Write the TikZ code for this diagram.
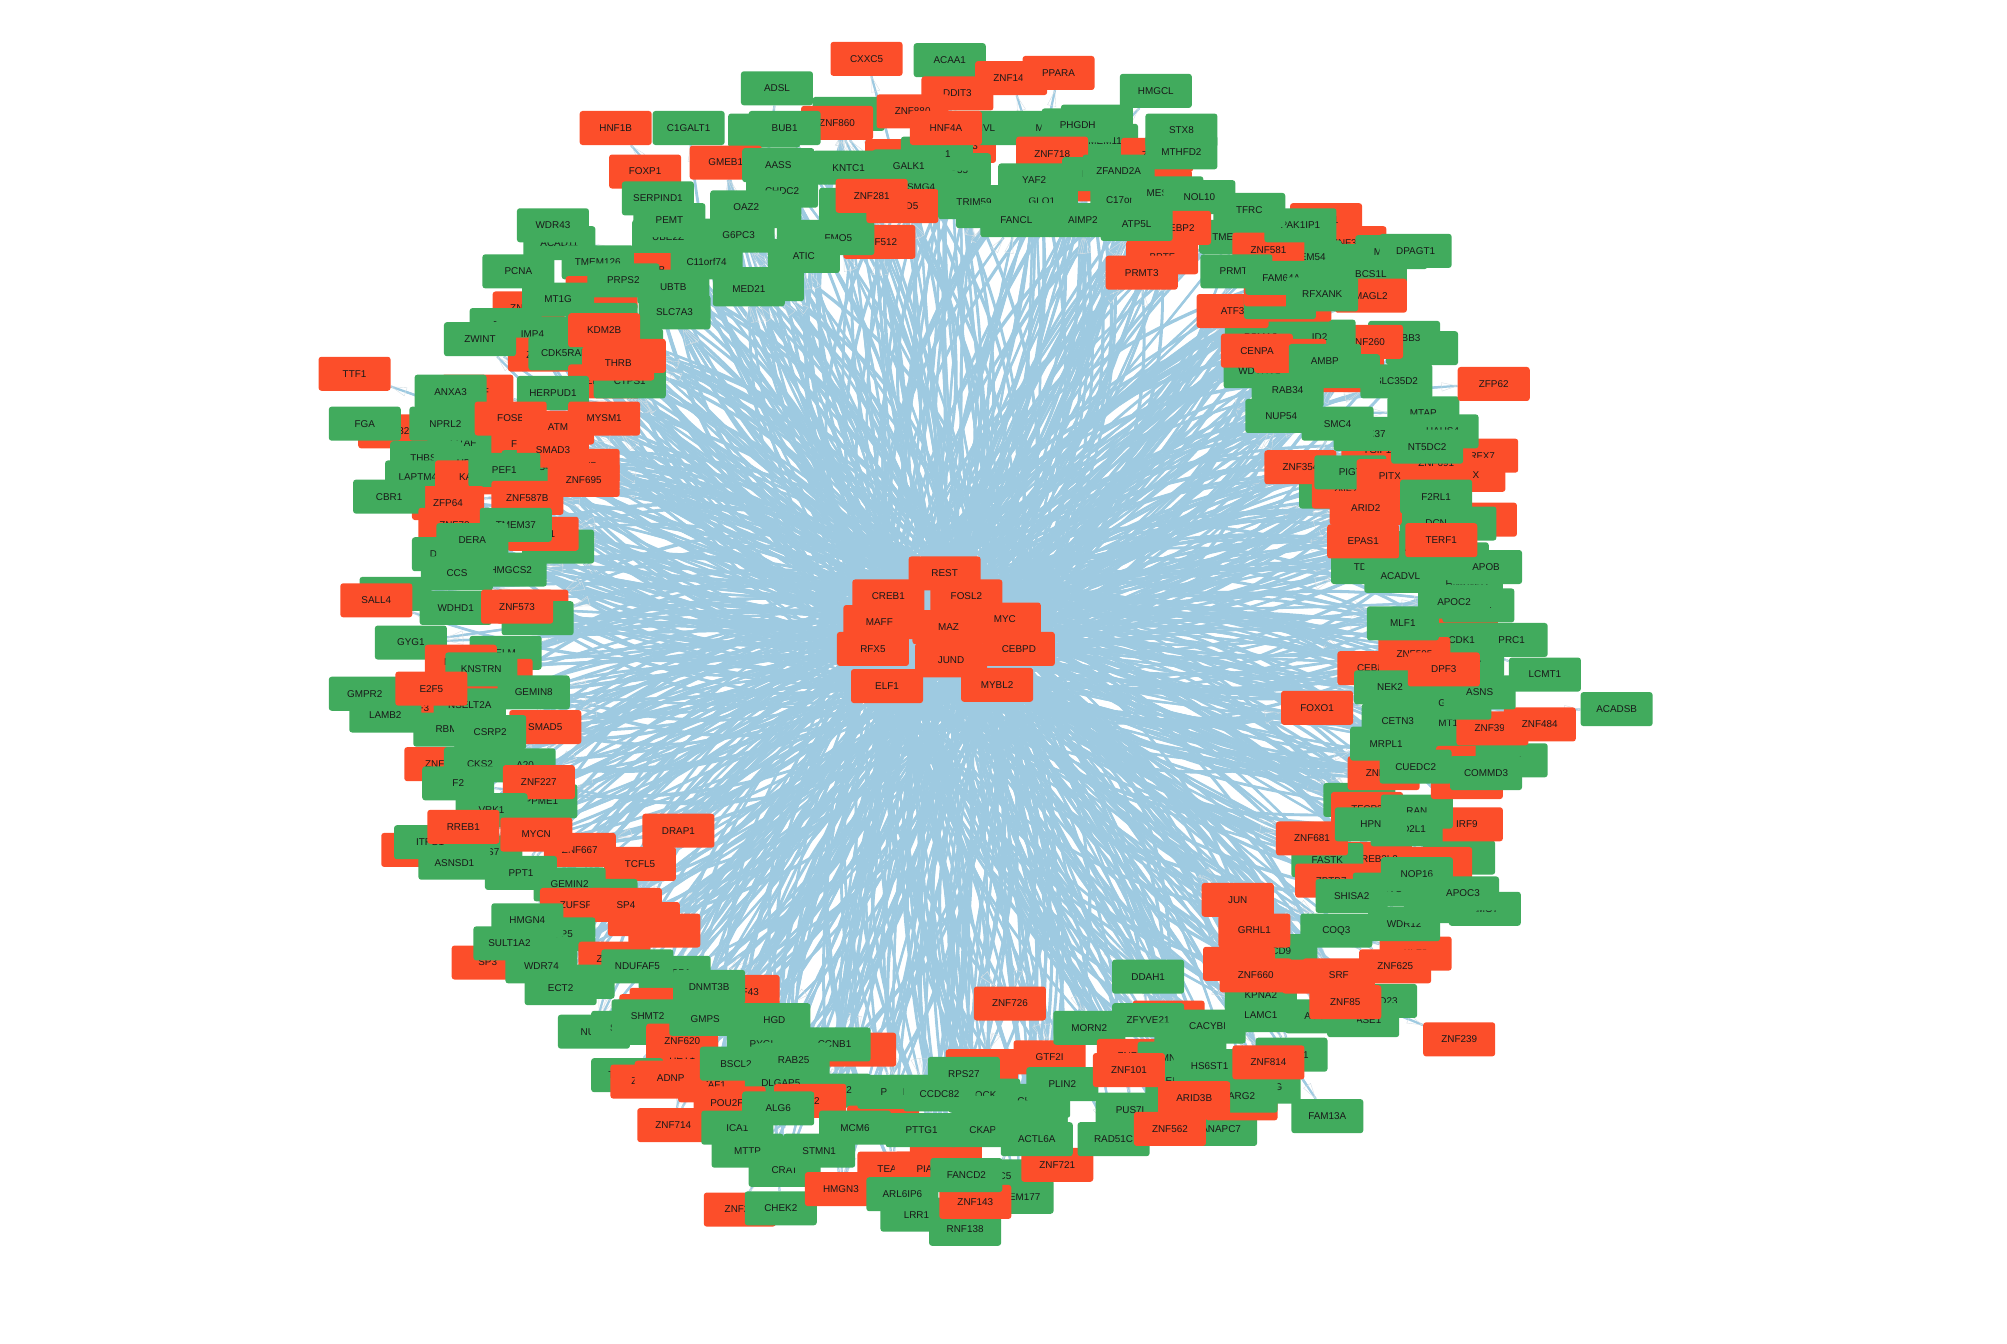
\documentclass[tikz,border=0pt]{standalone}
\usepackage{fontspec}
\setmainfont{Liberation Sans}
\usetikzlibrary{arrows.meta,backgrounds}
\definecolor{gfill}{HTML}{41AB5D}
\definecolor{ofill}{HTML}{FC4E2A}
\definecolor{edgeblue}{HTML}{9ECAE1}
\definecolor{tipgrey}{HTML}{D4DEE4}
\tikzset{
  x=0.04cm,y=-0.04cm,
  genebox/.style={rectangle,rounded corners=2.5pt,inner sep=0pt,minimum width=2.25cm,minimum height=1.0625cm,text=black!90,font=\fontsize{8.8}{8.8}\selectfont},
  gbox/.style={genebox,fill=gfill},
  obox/.style={genebox,fill=ofill},
  edgeline/.style={draw=edgeblue,line width=2pt},
  tipline/.style={draw=edgeblue,line width=2pt,-{Triangle[open,length=0.5cm,width=0.28cm,line width=0.35pt,color=tipgrey]}}
}
\def\peers{}
\newcommand\addpeer[2]{\ifx\peers\empty\xdef\peers{#1/#2}\else\xdef\peers{\peers,#1/#2}\fi}
\newcommand\gN[4][0]{\node[gbox] (#2) at (#3,#4) {#2};\addpeer{#2}{#1}}
\newcommand\oN[4][0]{\node[obox] (#2) at (#3,#4) {#2};\addpeer{#2}{#1}}
\newcommand\hubname[1]{\ifcase#1 REST\or CREB1\or FOSL2\or MAFF\or MAZ\or MYC\or RFX5\or CEBPD\or JUND\or ELF1\or MYBL2\fi}
\begin{document}
\begin{tikzpicture}
\useasboundingbox (0,0) rectangle (1568,1050);
% top
\oN[1]{CXXC5}{677}{46}
\gN[1]{ACAA1}{742}{47}
\gN[1]{ADSL}{607}{69}
\oN[1]{ZNF148}{790}{61}
\oN[1]{PPARA}{827}{57}
\oN{DDIT3}{748}{73}
\gN{GLRX}{663}{89}
\oN{ZNF860}{654}{96}
\oN{ZNF880}{713}{87}
\gN{CD2}{597}{102}
\gN[1]{C1GALT1}{538}{100}
\gN{BUB1}{613}{100}
\oN[1]{HNF1B}{481}{100}
\oN{GMEB1}{567}{127}
\gN{CHDC2}{611}{149}
\gN{AASS}{608}{129}
\oN[2]{FOXP1}{504}{134}
\gN{SMC1A}{668}{160}
\oN{ZNF22}{704}{122}
\gN{KNTC1}{663}{131}
\oN{ZNF653}{750}{114}
\gN{NVL}{770}{100}
\gN{TIP55}{746}{133}
\gN{MTG1}{732}{120}
\oN{HNF4A}{739}{100}
\gN{PSMG4}{717}{146}
\gN{GALK1}{710}{130}
\gN{UBE2Z}{522}{185}
\gN{SERPIND1}{514}{155}
\gN{PDHX}{598}{165}
\gN{PEMT}{523}{172}
\gN{OAZ2}{583}{162}
\oN{ZNF512}{687}{189}
\gN{SIL1}{635}{185}
\gN{G6PC3}{577}{184}
\gN{FMO5}{655}{186}
\gN{ATIC}{628}{200}
\oN{MAFB}{509}{211}
\gN{POLD7}{600}{222}
\gN{C11orf74}{552}{205}
\gN{MED21}{585}{226}
\gN{NUP35}{775}{165}
\oN{ZBED5}{705}{161}
\oN{ZNF281}{681}{153}
\gN{TRIM59}{761}{158}
% upper left
\gN{ACAD11}{437}{190}
\gN[2]{WDR43}{432}{176}
\gN{TMEM126}{467}{205}
\oN{ZNF331}{470}{229}
\gN{UBTB}{526}{224}
\gN{PRPS2}{487}{219}
\gN{PCNA}{405}{212}
\gN{SLC7A3}{527}{244}
\oN{ZNF74A}{413}{241}
\gN{RPL7}{395}{254}
\gN{TBCA}{470}{250}
\gN{MT1G}{436}{234}
\gN{IMP4}{416}{261}
\oN{ZNF211}{425}{277}
\gN{CDK5RAP}{441}{276}
\gN[2]{ZWINT}{375}{265}
\gN{GMPR}{490}{270}
\oN{KDM2B}{472}{258}
\oN{ZNF317}{472}{298}
\gN{CTPS1}{492}{298}
\oN{SOX9}{492}{278}
\oN{THRB}{483}{284}
% left
\oN[1]{TTF1}{277}{292}
\oN{ZNF32}{308}{337}
\oN{MITF}{373}{306}
\gN[1]{FGA}{285}{331}
\gN{ANXA3}{352}{306}
\gN{LITAF}{362}{346}
\gN{THBS1}{333}{358}
\gN{UBA2}{367}{362}
\gN{NPRL2}{348}{331}
\oN{FOXA1}{412}{347}
\gN{HERPUD1}{432}{307}
\oN{ZNF7}{456}{364}
\oN{FOSB}{399}{327}
\gN{NCS4}{420}{365}
\oN{SMAD3}{432}{352}
\oN{ATM}{436}{334}
\oN{MYSM1}{472}{327}
\gN{LAPTM4B}{329}{373}
\oN{KAT7}{368}{373}
\oN{ZNF695}{456}{375}
\gN{PEF1}{394}{367}
\oN{ZFP64}{350}{393}
\oN{ZNF587B}{412}{389}
\gN[2]{CBR1}{304}{388}
\oN{ZNF70}{355}{410}
\gN{NRM}{436}{427}
\oN{ETS1}{424}{417}
\gN{DGUOK}{350}{433}
\gN{TMEM37}{403}{410}
\gN{DERA}{369}{422}
\gN{HMGCS2}{399}{445}
\gN{GPT2}{309}{464}
\gN{CCS}{357}{448}
\oN{SP7}{416}{474}
\gN{BTF3}{420}{483}
\gN{WDHD1}{356}{475}
\oN{ZNF573}{404}{474}
\oN[1]{SALL4}{294}{469}
\gN{ELM}{395}{510}
\gN[2]{GYG1}{321}{502}
\oN{MEF2C}{360}{517}
\oN{YY1}{388}{528}
\gN{KNSTRN}{376}{523}
\oN{E2F3}{326}{553}
\gN[2]{LAMB2}{301}{559}
\gN{RBM3}{351}{570}
\gN{NSELT2A}{367}{551}
\gN{GEMIN8}{417}{541}
\gN[2]{GMPR2}{285}{542}
\oN{E2F5}{337}{538}
\oN{SMAD5}{426}{568}
\gN{CSRP2}{383}{572}
\oN{ZNF16}{344}{597}
\gN{15A20}{406}{598}
\gN{CKS2}{375}{597}
\gN{PPME1}{423}{626}
\gN{F2}{358}{612}
\oN{ZNF227}{421}{611}
\gN{VRK1}{384}{633}
\oN{NRF1}{326}{664}
\gN{RPS7}{380}{666}
\gN{ITFG1}{336}{658}
\oN{RREB1}{362}{646}
\gN{ASNSD1}{355}{674}
\oN{ZNF667}{453}{664}
\oN{MYCN}{419}{652}
\oN{TCFL5}{500}{675}
\oN[2]{DRAP1}{530}{649}
\gN{NDC80}{470}{700}
\gN{PPT1}{407}{682}
\gN{GEMIN2}{445}{691}
% lower left
\oN{ZNF13}{519}{727}
\oN{ZNF24}{503}{718}
\oN{ZUFSP}{450}{707}
\oN{SP4}{489}{707}
\oN{SP3}{381}{752}
\gN{NOP5}{437}{730}
\gN{HMGN4}{412}{719}
\gN{SULT1A2}{398}{737}
\oN{ZNF480}{480}{749}
\gN{SSBP1}{527}{760}
\gN{POLE2}{452}{767}
\gN{NDUFAF5}{498}{755}
\gN{WDR74}{423}{755}
\gN{ECT2}{438}{772}
\oN{ZNF43}{581}{775}
\oN{ZNF19}{520}{785}
\oN{ZNF20}{512}{790}
\gN{DNMT3B}{554}{771}
\gN{NUS1}{464}{806}
\gN{SNRPE}{490}{803}
\gN{SHMT2}{506}{794}
\oN{HEY1}{533}{825}
\oN{ZNF620}{533}{813}
\gN{PYGL}{596}{816}
\gN{GMPS}{551}{796}
\gN{HGD}{605}{797}
\oN{HLF}{672}{820}
\gN{CCNB1}{652}{816}
\gN{TIMM8A}{490}{840}
\oN{ZNF26}{505}{845}
\oN{TAF1}{558}{848}
\oN{ADNP}{524}{842}
\gN{BSCL2}{575}{831}
\gN{RAB25}{620}{828}
\gN{WDR82}{652}{852}
\gN{DLGAP5}{610}{846}
\oN{SP2}{633}{860}
\oN{POU2F1}{570}{862}
\oN[2]{ZNF714}{526}{879}
\gN{ICA1}{576}{881}
\gN{ALG6}{608}{866}
\gN{MTTP}{584}{899}
\gN{CRAT}{613}{914}
\gN{STMN1}{640}{899}
\oN[1]{ZNF23}{578}{945}
\gN[1]{CHEK2}{610}{944}
\oN{HMGN3}{657}{929}
\oN{ZNF30}{690}{877}
\gN{MCM6}{668}{881}
\oN{ELK3}{739}{905}
\oN{TEAD4}{698}{913}
\oN{PIAS1}{727}{913}
\gN{ARL6IP6}{705}{933}
\gN[1]{LRR1}{716}{949}
\gN[1]{RNF138}{754}{960}
\gN{TMEM177}{795}{935}
\gN{TRC5}{780}{919}
\oN{ZNF143}{762}{939}
\gN{FANCD2}{755}{918}
\oN{ZNF721}{826}{910}
\oN{ZNF34}{767}{833}
\gN{PFKP}{698}{853}
\gN{NCAPD2}{721}{853}
\gN{RPS27}{753}{839}
\gN{IQCK}{769}{856}
\gN{TK2}{772}{869.5}
\gN{TK1}{772}{876}
\gN{CCDC82}{734}{855}
\gN{PTTG1}{720}{883}
\gN{CKAP2}{770}{883}
\oN{GTF2I}{820}{826}
\gN{CENPF}{808}{860}
\gN{PLIN2}{830}{847}
\gN{TOP2A}{806}{873}
\gN{CDT1}{806}{882}
\gN{ACTL6A}{810}{890}
% bottom right
\oN[3]{ZNF726}{789}{784}
\gN[3]{DDAH1}{897}{763}
\gN{MORN2}{851}{803}
\oN{ZNF36}{913}{795}
\gN{ZFYVE21}{897}{797}
\oN{ZNF38}{885}{825}
\gN{FBXL5}{930}{812}
\gN{NMNAT1}{917}{827}
\gN{ELOF2}{923}{845}
\oN{ZNF101}{882}{836}
\gN{RAD51C}{870}{890}
\gN{PUS7L}{884}{867}
\gN{ANAPC7}{954}{882}
\oN{ZNF562}{914}{882}
\oN{ZNF40}{970}{862}
\gN{NCAPG}{988}{849}
\gN{ARG2}{970}{856}
\gN{HS6ST1}{945}{833}
\oN{ARID3B}{933}{858}
\gN{CCND1}{1009}{824}
\gN{CACYBP}{945}{802}
\oN{ZNF814}{991}{830}
\gN[1]{FAM13A}{1037}{872}
\gN{KPNA2}{985}{777}
\gN{LAMC1}{985}{793}
\gN{MED23}{1079}{782}
\gN{MIASE1}{1065}{797}
\gN{ACOT1}{1032}{794}
\oN{KLF8}{1106}{745}
\gN{CD9}{1001}{743}
\oN{IRF1}{968}{753}
\oN{KLF4}{1030}{763}
\oN{ZNF660}{981}{762}
\oN{JUN}{967}{703}
\oN{GRHL1}{980}{727}
\gN{WDR12}{1097}{722}
\gN{COQ3}{1044}{727}
\oN{ZNF625}{1090}{755}
\oN{SRF}{1046}{762}
\oN{ZNF85}{1051}{783}
\oN[1]{ZNF239}{1140}{812}
% right lower
\gN{LMO7}{1160}{710}
\gN{TCP2}{1140}{670}
\oN{ZNF42}{1122}{675}
\oN{CREB3L2}{1075}{671}
\gN{FASTK}{1037}{672}
\oN{ZBTB7}{1040}{688}
\gN{ACTC}{1085}{695}
\gN{CDK2}{1125}{708}
\gN{SHISA2}{1056}{700}
\gN{NOP16}{1107}{683}
\gN{APOC3}{1143}{698}
\oN{ZNF681}{1025}{655}
\gN{GAS7}{1062}{625}
\oN{TFCP2}{1068}{632}
\oN{IRF9}{1146}{644}
\gN{RAN}{1107}{634}
\gN{MAD2L1}{1099}{648}
\gN{HPN}{1071}{644}
\oN{ZNF302}{1081}{604}
\oN{ZIC2}{1146}{611}
\gN{TYMS}{1136}{588}
\oN{HES1}{1150}{596}
\gN{RFK}{1181}{594}
\gN{CUEDC2}{1106}{599}
\gN{COMMD3}{1161}{604}
\gN{MRPL1}{1083}{581}
\gN{MT1X}{1134}{565}
\oN{ZNF394}{1166}{569}
\oN{ZNF484}{1203}{566}
\gN{CETN3}{1092}{563}
\oN[3]{FOXO1}{1029}{553}
\gN[1]{ACADSB}{1263}{554}
\gN{GSTM1}{1137}{549}
\oN{CEBPA}{1073}{522}
\oN{ELK1}{1142}{496}
\gN{GPX4}{1147}{516}
\gN{NUDC}{1122}{509}
\gN{CDK1}{1142}{500}
\oN{ZNF595}{1105}{511}
\gN{PRC1}{1181}{500}
\gN{MLF1}{1096}{487}
\gN[1]{LCMT1}{1207}{527}
\gN{NEK2}{1086}{537}
\gN{ASNS}{1156}{541}
\oN{DPF3}{1128}{523}
\gN{GBP1}{1155}{473}
\gN{HNRNPD}{1146}{456}
\gN{APOC2}{1136}{470}
\gN{SCP2}{1135}{437}
\gN[1]{APOB}{1161}{443}
\gN{ACSL1}{1110}{428}
\gN{TDO2}{1068}{443}
\oN{EPAS1}{1065}{423}
\gN{ACADVL}{1094}{450}
\oN{ATF1}{1157}{406}
\gN{AGT}{1141}{409}
\gN{DCN}{1122}{409}
\oN{TERF1}{1126}{422}
\gN{COX5B}{1043}{384}
\oN{ZNF74}{1053}{384}
\oN{RFX7}{1158}{356}
\oN{ZHX}{1148}{371}
\oN{TGIF1}{1076}{352}
\oN{ZNF354}{1016}{365}
\gN{PIGT}{1055}{369}
\oN{PITX1}{1088}{372}
\oN{ZNF691}{1122}{362}
\oN{ARID2}{1067}{397}
\gN{F2RL1}{1122}{388}
\gN{MTAP}{1112}{323}
\gN{HAUS4}{1127}{337}
\gN{DDX37}{1070}{339}
\gN{NT5DC2}{1115}{349}
% right upper
\oN[1]{ZFP62}{1167}{300}
\oN{ZNF52}{1052}{293}
\oN{ZNF53}{1053}{281}
\gN{TCP1}{1111}{272}
\gN{ERBB3}{1097}{264}
\oN{ZNF260}{1068}{267}
\gN{PSMA3}{985}{263}
\gN{ID2}{1031}{263}
\gN{WDYHV1}{984}{290}
\oN{ZNF54}{1008}{278}
\oN{CENPA}{982}{274}
\gN{SLC35D2}{1091}{298}
\gN{LIG1}{1050}{290}
\gN{AMBP}{1035}{282}
\gN{RAB34}{1006}{305}
\gN{SMC4}{1045}{331}
\gN{NUP54}{1001}{325}
\oN{ATF3}{963}{243}
\oN{ZNF55}{1012}{238}
\gN{CDC6}{1000}{236}
\oN{ZNF56}{1000}{226}
\oN{ETV1}{1036}{172}
\oN{ZNF33A}{1055}{190}
\gN{ZC3H4}{1048}{204}
\gN{TMEM54}{1020}{201}
\gN{TMEM180}{965}{185}
\gN{MTMR2}{1087}{197}
\gN[1]{DPAGT1}{1106}{196}
\oN{ZNF581}{991}{195}
\gN{PAK1IP1}{1016}{176}
\gN{BCS1L}{1071}{214}
\oN{MAGL2}{1071}{231}
\gN{PRMT1}{966}{212}
\gN{FAM64A}{1001}{217}
\gN{RFXANK}{1033}{230}
% top right
\gN[1]{HMGCL}{903}{71}
\gN{GLUD1}{857}{95}
\gN{MYO1}{820}{100}
\gN{TMEM11}{861}{110}
\gN{PHGDH}{842}{98}
\oN{ZNF71}{904}{121}
\gN{STX8}{923}{102}
\gN{MTHFD2}{923}{119}
\oN{ZNF718}{822}{120}
\oN{ZBTB7A}{843}{144}
\oN{ZNF72}{903}{146}
\gN{DCAF7}{858}{136}
\gN{GLO1}{814}{157}
\gN{YAF2}{808}{141}
\gN{ZFAND2A}{874}{134}
\gN{TFRC}{976}{164}
\gN{C17orf80}{880}{156}
\gN{MESDC1}{912}{151}
\gN{NOL10}{937}{154}
\oN{BPTF}{908}{201}
\oN{PRMT3}{892}{213}
\oN{SREBP2}{918}{178}
\gN{ATP5L}{888}{175}
\gN{FANCL}{794}{172}
\gN{AIMP2}{846}{172}
% centre
\node[obox] (REST) at (738,448) {REST};
\node[obox] (CREB1) at (694,466) {CREB1};
\node[obox] (FOSL2) at (755,466) {FOSL2};
\node[obox] (MAFF) at (687,486) {MAFF};
\node[obox] (MYC) at (785,484) {MYC};
\node[obox] (MAZ) at (741,490) {MAZ};
\node[obox] (CEBPD) at (796,507) {CEBPD};
\node[obox] (RFX5) at (682,507) {RFX5};
\node[obox] (JUND) at (743,516) {JUND};
\node[obox] (ELF1) at (693,536) {ELF1};
\node[obox] (MYBL2) at (779,535) {MYBL2};
\begin{pgfonlayer}{background}
\foreach \n/\d [count=\i] in \peers {
  \pgfmathtruncatemacro\dd{\d==0 ? 2+mod(\i,3) : \d}
  \foreach \j in {1,...,\dd} {
    \pgfmathtruncatemacro\h{mod(\i*7+\j*\j*3+\j,11)}
    \pgfmathtruncatemacro\b{mod(\i*13+\j*5,51)-25}
    \draw[edgeline] (\hubname{\h}) to[bend left=\b] (\n);
    \draw[tipline] (\hubname{\h}) to[bend left=\b] (\n);
  }
}
\draw[edgeline] (ELF1) -- (JUND);
\draw[edgeline] (MYBL2) -- (JUND);
\draw[edgeline] (RFX5) -- (MAZ);
\draw[edgeline] (CEBPD) -- (MAZ);
\draw[edgeline] (CREB1) -- (FOSL2);
\end{pgfonlayer}
\end{tikzpicture}
\end{document}
